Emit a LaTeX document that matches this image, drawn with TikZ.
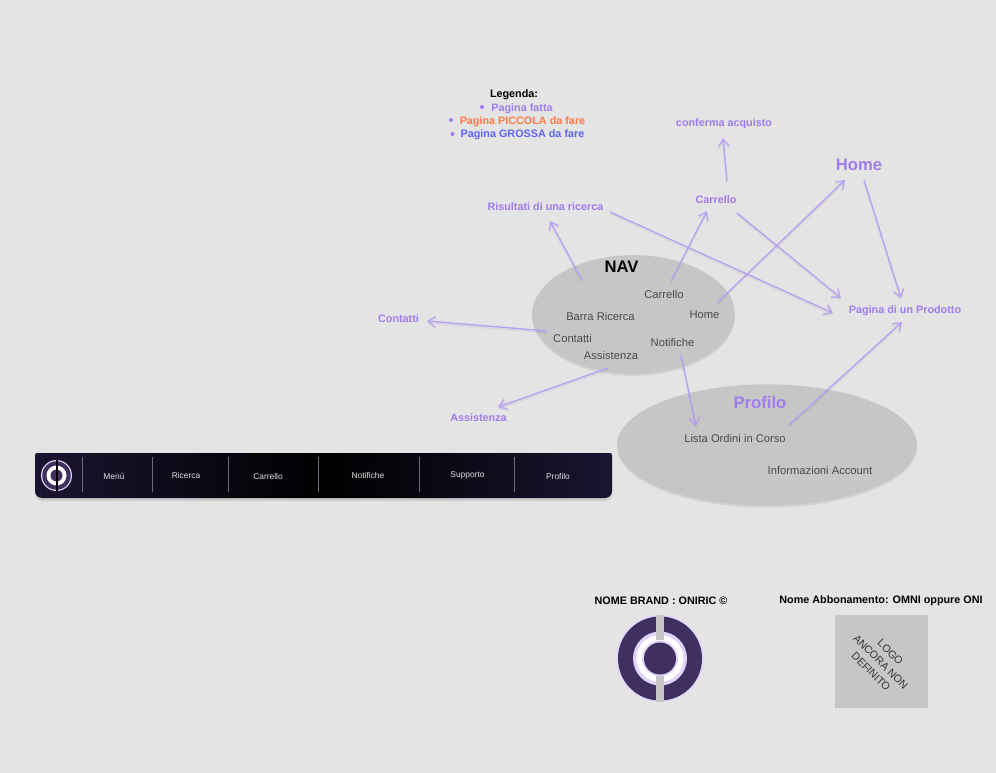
\documentclass[tikz,border=0pt]{standalone}
\usepackage{fontspec}
\setmainfont{Liberation Sans}
\usetikzlibrary{arrows.meta,shadows,shapes.geometric}
\definecolor{bgc}{HTML}{E4E4E4}
\definecolor{ell}{HTML}{C6C6C6}
\definecolor{lav}{HTML}{B8A0F4}
\definecolor{pur}{HTML}{A07CEC}
\definecolor{org}{HTML}{FF7A45}
\definecolor{blu}{HTML}{5B66F5}
\definecolor{dk}{HTML}{403060}
\definecolor{txt}{HTML}{4A4A4A}
\definecolor{edge}{HTML}{E0D4FF}
\definecolor{barl}{HTML}{1B1430}
\definecolor{sepc}{HTML}{6F6A80}
\tikzset{
 x=0.75pt,y=-0.75pt,
 conn/.style={draw=lav,line width=1pt,-{Straight Barb[length=5.5pt,width=8pt,line width=0.9pt]},
   preaction={draw=black,draw opacity=0.05,line width=1.6pt,transform canvas={yshift=-1.2pt},-{Straight Barb[length=5.5pt,width=8pt,line width=1.4pt]}}},
 plab/.style={text=pur,font=\bfseries\fontsize{8.1}{10}\selectfont,inner sep=0pt},
 biglab/.style={text=pur,font=\bfseries\fontsize{12.5}{14}\selectfont,inner sep=0pt},
 nlab/.style={text=txt,font=\fontsize{8.4}{10}\selectfont,inner sep=0pt},
 blab/.style={text=black,font=\bfseries\fontsize{8.1}{10}\selectfont,inner sep=0pt},
 tab/.style={text=white!88!black,font=\fontsize{6.3}{8}\selectfont,inner sep=0pt},
 sepline/.style={draw=sepc,line width=0.7pt},
 bubble/.style={ellipse,fill=ell,inner sep=0pt,copy shadow={draw=none,fill=black,opacity=0.08,shadow xshift=0pt,shadow yshift=-1.5pt}},
 bullet/.style={circle,fill=pur,inner sep=0pt,minimum size=3pt},
 disc/.style={circle,inner sep=0pt,minimum size=#1*0.75pt},
}
\newcommand{\link}[6]{\draw[conn] ([shift={(#2,#3)}]#1.center) -- ([shift={(#5,#6)}]#4.center);}
\begin{document}
\begin{tikzpicture}
\useasboundingbox (0,0) rectangle (996,773);
\fill[bgc] (0,0) rectangle (996,773);
% bubbles
\node[bubble,minimum width=152pt,minimum height=89pt] (navb) at (633.5,314.5) {};
\node[bubble,minimum width=225pt,minimum height=91pt] (profb) at (767,445) {};
% legend
\node[blab] (leg0) at (514,95) {Legenda:};
\node[plab] (leg1) at (522,108.5) {Pagina fatta};
\node[plab,text=org] (leg2) at (522.5,121.5) {Pagina PICCOLA da fare};
\node[plab,text=blu] (leg3) at (522.5,134.5) {Pagina GROSSA da fare};
\node[bullet] (b1) at (482,107) {};
\node[bullet] (b2) at (451,120) {};
\node[bullet] (b3) at (452.5,134) {};
% page labels
\node[plab] (conferma) at (724,124) {conferma acquisto};
\node[biglab] (home) at (859,165) {Home};
\node[plab] (carr) at (716,200) {Carrello};
\node[plab] (risu) at (545.5,207) {Risultati di una ricerca};
\node[plab] (prod) at (905,311) {Pagina di un Prodotto};
\node[plab] (cont) at (398.5,319) {Contatti};
\node[plab] (assi) at (478.5,418) {Assistenza};
% NAV
\node[font=\bfseries\fontsize{12.5}{14}\selectfont,inner sep=0pt] (nav) at (621.5,267) {NAV};
\node[nlab] (ncarr) at (664,294) {Carrello};
\node[nlab] (nhome) at (704.5,315) {Home};
\node[nlab] (nbar) at (600.5,316) {Barra Ricerca};
\node[nlab] (ncont) at (572.5,338) {Contatti};
\node[nlab] (nnot) at (672.5,342) {Notifiche};
\node[nlab] (nass) at (611,355) {Assistenza};
% Profilo
\node[biglab] (prof) at (760,403) {Profilo};
\node[nlab] (lista) at (735,438) {Lista Ordini in Corso};
\node[nlab] (info) at (820,470) {Informazioni Account};
% connectors
\link{nbar}{-18.5}{-36}{risu}{4.5}{14}
\link{ncont}{-25.5}{-7}{cont}{28.5}{2}
\link{nass}{-3}{13}{assi}{19.5}{-11}
\link{ncarr}{7}{-13}{carr}{-9}{11}
\link{nhome}{12.5}{-12}{home}{-14}{15}
\link{nnot}{8.5}{13}{lista}{-39}{-12}
\link{lista}{54}{-13}{prod}{-3}{11}
\link{carr}{21}{13}{prod}{-64}{-13}
\link{risu}{64.5}{5}{prod}{-72}{2}
\link{home}{5}{15}{prod}{-4}{-13}
\link{carr}{11}{-19}{conferma}{-1}{14}
% nav bar
\fill[black,opacity=0.10] (35,459) -- (612,459) -- (612,494) arc[start angle=0,end angle=90,radius=7] -- (42,501) arc[start angle=90,end angle=180,radius=7] -- cycle;
\shade[left color=barl,right color=barl,middle color=black]
  (35,455) arc[start angle=180,end angle=270,radius=2] -- (610,453) arc[start angle=270,end angle=360,radius=2] -- (612,491) arc[start angle=0,end angle=90,radius=7] -- (42,498) arc[start angle=90,end angle=180,radius=7] -- cycle;
\node[disc=31,fill=edge] (slogoa) at (56.5,475.5) {};
\node[disc=28.5,fill=dk] (slogob) at (56.5,475.5) {};
\node[disc=20,fill=white] (slogoc) at (56.5,475.5) {};
\node[disc=12,fill=dk] (slogod) at (56.5,475.5) {};
\fill[black] (55.5,460) rectangle (57.5,491);
\foreach \x in {82.5,152.5,228,318.5,419.5,514.5} \draw[sepline] (\x,457) -- (\x,492);
\node[tab] (t1) at (114,476) {Menù};
\node[tab] (t2) at (186,475.5) {Ricerca};
\node[tab] (t3) at (268,476) {Carrello};
\node[tab] (t4) at (368,475) {Notifiche};
\node[tab] (t5) at (467.5,475) {Supporto};
\node[tab] (t6) at (558,476) {Profilo};
% brand
\node[blab] (brand) at (661,601) {NOME BRAND : ONIRIC ©};
\node[blab] (abbo) at (881,601) {Nome Abbonamento: OMNI oppure ONI};
\node[disc=87,fill=edge] (la) at (660,658.5) {};
\node[disc=84,fill=dk] (lb) at (660,658.5) {};
\node[disc=54,fill=edge] (lc) at (660,658.5) {};
\node[disc=47,fill=white] (ld) at (660,658.5) {};
\node[disc=36,fill=edge] (le) at (660,658.5) {};
\node[disc=32,fill=dk] (lf) at (660,658.5) {};
\fill[ell] (655.5,614.5) rectangle (663.5,640);
\fill[ell] (655.5,676) rectangle (663.5,701.5);
\fill[ell] (834.5,614.5) rectangle (927.5,707.5);
\node[text=txt!70!black,font=\fontsize{8}{10.3}\selectfont,align=center,inner sep=0pt,rotate=-45] (logot) at (880.7,662) {LOGO\\ANCORA NON\\DEFINITO};
\end{tikzpicture}
\end{document}
